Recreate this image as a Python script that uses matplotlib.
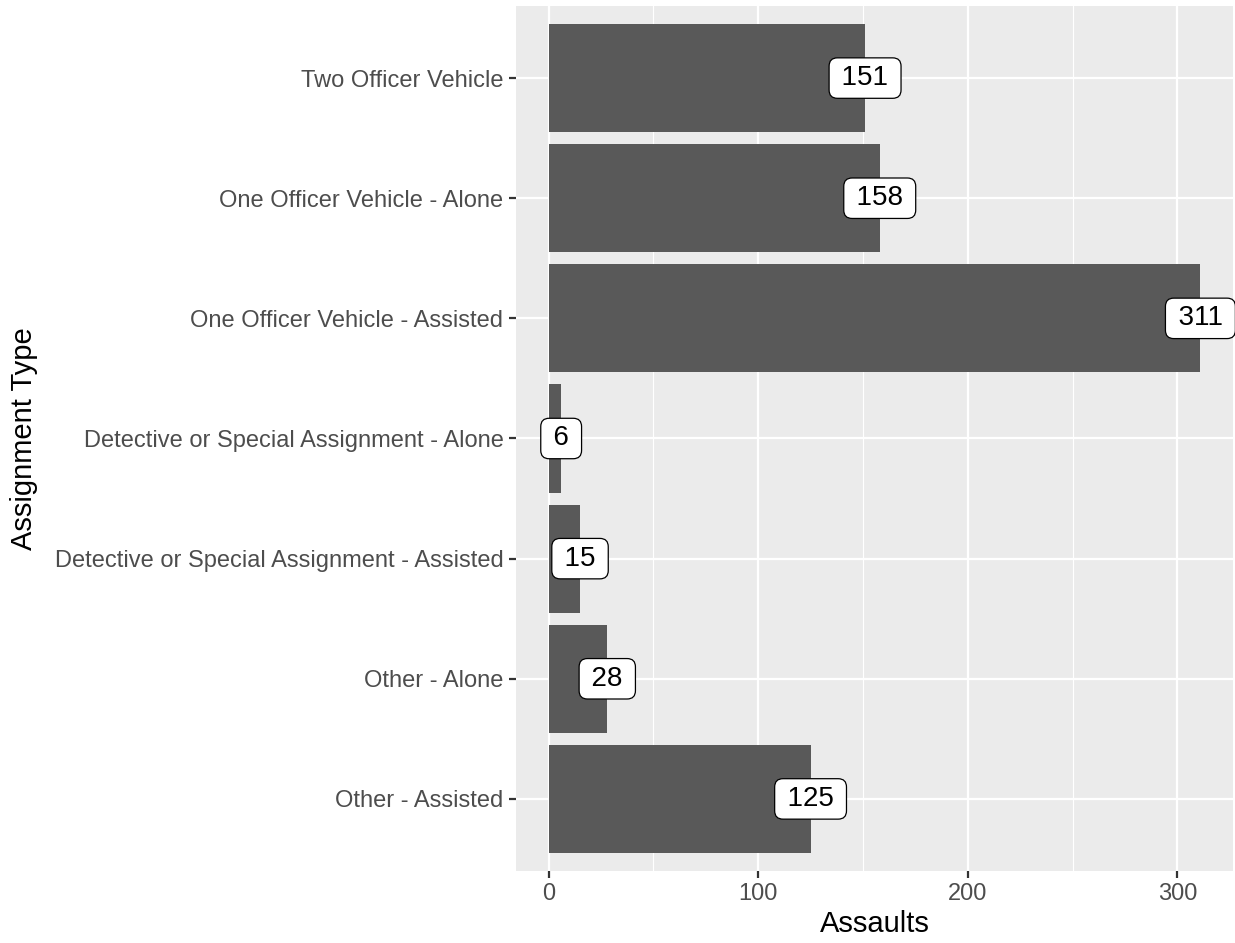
import matplotlib
matplotlib.use("Agg")
import matplotlib.pyplot as plt
from matplotlib.ticker import MultipleLocator

plt.rcParams['font.family'] = ['Liberation Sans', 'DejaVu Sans']

categories = ["Two Officer Vehicle", "One Officer Vehicle - Alone", "One Officer Vehicle - Assisted",
              "Detective or Special Assignment - Alone", "Detective or Special Assignment - Assisted",
              "Other - Alone", "Other - Assisted"]
assaults = [151, 158, 311, 6, 15, 28, 125]
x_ticks = [0, 100, 200, 300]

fig = plt.figure(figsize=(12.35, 9.43), dpi=100)
ax = fig.add_axes([516/1235, 1-871/943, (1233-516)/1235, (871-6)/943])
ax.set_facecolor('#EBEBEB')

n = len(categories)
ypos = [n - i for i in range(n)]
ax.barh(ypos, assaults, height=0.9, color='#595959', zorder=2)
for y, v in zip(ypos, assaults):
    ax.text(v, y, "\u2009" + str(v) + "\u2009", ha='center', va='center', fontsize=20, color='black',
            zorder=4,
            bbox=dict(boxstyle='round,pad=0.26,rounding_size=0.3', fc='white', ec='black', lw=0.9))

rng = max(assaults)
ax.set_xlim(-0.05*rng, rng*1.05)
ax.set_ylim(0.4, n + 0.6)
ax.set_xticks(x_ticks)
ax.xaxis.set_minor_locator(MultipleLocator(50))
ax.set_yticks(ypos)
ax.set_yticklabels(categories)
ax.grid(which='major', color='white', lw=1.6, zorder=1)
ax.grid(which='minor', axis='x', color='white', lw=0.8, zorder=1)
ax.set_axisbelow(True)
for s in ax.spines.values():
    s.set_visible(False)
ax.tick_params(axis='both', which='major', length=5, width=1.6, color='#333333',
               labelsize=17, labelcolor='#4D4D4D', pad=4)
ax.tick_params(which='minor', length=0)
ax.set_xlabel('Assaults', fontsize=21, color='black', labelpad=3)
ax.set_ylabel('Assignment Type', fontsize=21, color='black', labelpad=12)

fig.savefig('out.png', dpi=100)
